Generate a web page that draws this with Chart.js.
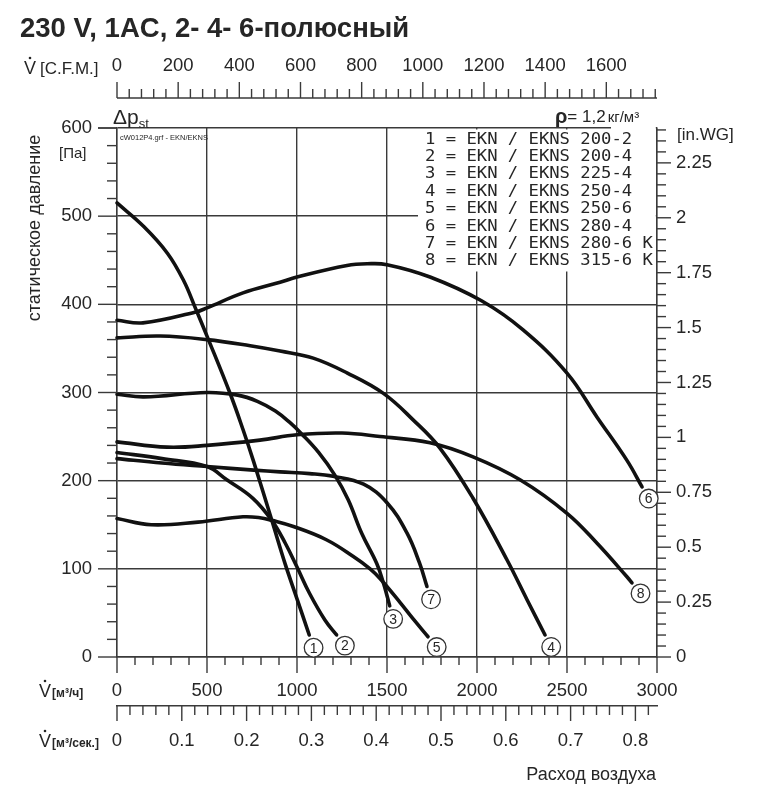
<!DOCTYPE html>
<html><head><meta charset="utf-8">
<script src="https://cdn.jsdelivr.net/npm/chart.js@4.4.1/dist/chart.umd.min.js"></script>
<style>html,body{margin:0;padding:0;background:#fff}#wrap{width:758px;height:802px}</style>
</head><body><div id="wrap"><canvas id="c" width="758" height="802"></canvas></div>
<script>
// ---- data (flow in m³/h, static pressure in Pa) ----
const flow1 = [0, 150, 280, 370, 435, 500, 630, 700, 760, 860, 935, 1000, 1068];
const pressure1 = [515, 488, 458, 427, 396, 364, 298, 258, 221, 155, 105, 66, 25];
const flow2 = [0, 250, 500, 610, 755, 860, 935, 1000, 1070, 1155, 1220];
const pressure2 = [232, 225, 216, 201, 180, 155, 129, 102, 72, 42, 25];
const flow3 = [0, 150, 500, 670, 780, 880, 960, 1026, 1120, 1211, 1285, 1360, 1443, 1480, 1502, 1515];
const pressure3 = [298, 295, 300, 297, 290, 279, 266, 253, 232, 206, 178, 140, 106, 84, 68, 58];
const flow4 = [0, 240, 500, 740, 906, 1090, 1280, 1480, 1645, 1794, 1978, 2167, 2278, 2378];
const pressure4 = [362, 364, 360, 353, 347, 339, 322, 299, 269, 237, 180, 110, 65, 25];
const flow5 = [0, 190, 450, 700, 794, 860, 980, 1163, 1313, 1406, 1461, 1572, 1650, 1728];
const pressure5 = [157, 150, 153, 159, 158, 155, 148, 133, 114, 100, 89, 62, 42, 23];
const flow6 = [0, 144, 433, 500, 700, 906, 1000, 1278, 1390, 1500, 1739, 2025, 2256, 2500, 2667, 2833, 2917];
const pressure6 = [382, 379, 391, 396, 413, 425, 431, 444, 446, 445, 431, 404, 371, 322, 272, 223, 193];
const flow7 = [0, 250, 500, 760, 906, 1070, 1200, 1370, 1500, 1610, 1680, 1722];
const pressure7 = [225, 220, 216, 212, 210, 208, 205, 196, 175, 141, 107, 80];
const flow8 = [0, 278, 500, 794, 1000, 1250, 1461, 1739, 1978, 2239, 2500, 2667, 2833, 2861];
const pressure8 = [244, 238, 240, 246, 252, 254, 250, 243, 227, 201, 163, 129, 91, 84];

const curveNumbers = ['1', '2', '3', '4', '5', '6', '7', '8'];
const curveNames = [
  '1 = EKN / EKNS 200-2',
  '2 = EKN / EKNS 200-4',
  '3 = EKN / EKNS 225-4',
  '4 = EKN / EKNS 250-4',
  '5 = EKN / EKNS 250-6',
  '6 = EKN / EKNS 280-4',
  '7 = EKN / EKNS 280-6 K',
  '8 = EKN / EKNS 315-6 K'
];

// tick labels
const flowTicks = [0, 500, 1000, 1500, 2000, 2500, 3000];
const pressureTicks = [0, 100, 200, 300, 400, 500, 600];
const cfmTicks = [0, 200, 400, 600, 800, 1000, 1200, 1400, 1600];
const flowSecTicks = [0, 0.1, 0.2, 0.3, 0.4, 0.5, 0.6, 0.7, 0.8];
const wgTicks = [0, 0.25, 0.5, 0.75, 1, 1.25, 1.5, 1.75, 2, 2.25];

// unit conversions
const M3H_PER_CFM = 1.699011;
const M3H_PER_M3S = 3600;
const PA_PER_INWG = 249.0889;

const flows = [flow1, flow2, flow3, flow4, flow5, flow6, flow7, flow8];
const pressures = [pressure1, pressure2, pressure3, pressure4, pressure5, pressure6, pressure7, pressure8];

const GRID = '#3a3a3a';
const TEXT = '#262626';
const FONT = '"Liberation Sans", Arial, sans-serif';
const tickFont = {family: FONT, size: 18.5};

const datasets = flows.map((f, k) => ({
  label: curveNames[k],
  data: f.map((x, i) => ({x: x, y: pressures[k][i]})),
  borderColor: '#111',
  borderWidth: 3.6,
  borderCapStyle: 'round',
  borderJoinStyle: 'round',
  pointRadius: 0,
  fill: false,
  tension: 0.4,
  xAxisID: 'x', yAxisID: 'y',
  clip: false
}));

function setTicks(arr) { return s => { s.ticks = arr.map(v => ({value: v})); }; }

function line(ctx, x1, y1, x2, y2) { ctx.beginPath(); ctx.moveTo(x1, y1); ctx.lineTo(x2, y2); ctx.stroke(); }

function vdot(ctx, x, y, gap, small, smallFont) {
  ctx.font = '18px ' + FONT;
  ctx.fillText('V', x, y);
  const w = ctx.measureText('V').width;
  ctx.beginPath(); ctx.arc(x + w / 2, y - 16, 1.3, 0, Math.PI * 2); ctx.fill();
  ctx.font = smallFont;
  ctx.fillText(small, x + w + gap, y);
}

const extras = {
  id: 'extras',
  beforeDatasetsDraw(chart) {
    const ctx = chart.ctx, a = chart.chartArea;
    ctx.save();
    ctx.fillStyle = '#fff';
    ctx.fillRect(418, a.top + 1.5, a.right - 1.2 - 418, 142);
    ctx.fillRect(611, a.top - 4, a.right - 1.2 - 611, 8);
    ctx.restore();
  },
  afterDatasetsDraw(chart) {
    const ctx = chart.ctx;
    ctx.save();
    chart.data.datasets.forEach((ds, k) => {
      const pts = chart.getDatasetMeta(k).data;
      const p1 = pts[pts.length - 2], p2 = pts[pts.length - 1];
      let dx = p2.x - p1.x, dy = p2.y - p1.y;
      const L = Math.hypot(dx, dy) || 1;
      dx /= L; dy /= L;
      const cx = p2.x + dx * 13.5, cy = p2.y + dy * 13.5;
      ctx.beginPath(); ctx.arc(cx, cy, 9.3, 0, Math.PI * 2);
      ctx.fillStyle = '#fff'; ctx.fill();
      ctx.lineWidth = 1.3; ctx.strokeStyle = '#333'; ctx.stroke();
      ctx.fillStyle = TEXT; ctx.font = '14px ' + FONT;
      ctx.textAlign = 'center'; ctx.textBaseline = 'middle';
      ctx.fillText(curveNumbers[k], cx, cy + 1);
    });
    ctx.restore();
  },
  afterDraw(chart) {
    const ctx = chart.ctx, a = chart.chartArea, S = chart.scales;
    ctx.save();
    ctx.strokeStyle = GRID; ctx.lineWidth = 1.4;
    for (let v = 0; v <= 3000; v += 100) {
      const px = S.x.getPixelForValue(v);
      line(ctx, px, a.bottom, px, a.bottom + (v % 500 === 0 ? 16 : 8));
    }
    for (let v = 0; v <= 600; v += 20) {
      const py = S.y.getPixelForValue(v);
      line(ctx, a.left - (v % 100 === 0 ? 19 : 10), py, a.left, py);
    }
    for (let i = 0; i <= 48; i++) {
      const py = S.wg.getPixelForValue(i * 0.05);
      line(ctx, a.right, py, a.right + (i % 5 === 0 ? 14 : 9), py);
    }
    const t2 = S.xs.top;
    for (let i = 0; i <= 41; i++) {
      const px = S.xs.getPixelForValue(i * 0.02);
      line(ctx, px, t2, px, t2 + (i % 5 === 0 ? 15 : 9));
    }
    const yc = 98;
    line(ctx, a.left, yc, a.right, yc);
    for (let i = 0; i <= 44; i++) {
      const px = S.cfm.getPixelForValue(i * 40);
      line(ctx, px, yc, px, yc - (i % 5 === 0 ? 16 : 9));
    }
    line(ctx, a.left - 19, a.top, a.left, a.top);

    // ---- texts ----
    ctx.fillStyle = TEXT;
    ctx.textAlign = 'left'; ctx.textBaseline = 'alphabetic';
    ctx.font = 'bold 27.5px ' + FONT;
    ctx.fillText('230 V, 1AC, 2- 4- 6-полюсный', 20, 37);

    vdot(ctx, 24, 74, 4, '[C.F.M.]', '17px ' + FONT);
    vdot(ctx, 39, 697, 1, '[м³/ч]', 'bold 12px ' + FONT);
    vdot(ctx, 39, 747, 1, '[м³/сек.]', 'bold 12px ' + FONT);

    ctx.font = '21px ' + FONT;
    ctx.fillText('Δp', 113, 124);
    const wdp = ctx.measureText('Δp').width;
    ctx.font = '13px ' + FONT;
    ctx.fillText('st', 113 + wdp, 128);

    ctx.font = '7.5px ' + FONT;
    ctx.fillText('cW012P4.grf - EKN/EKNS', 120, 140);

    ctx.font = '15px ' + FONT;
    ctx.fillText('[Па]', 59, 158);

    ctx.font = 'bold 20px ' + FONT;
    ctx.fillText('ρ', 555, 123);
    let xr = 555 + ctx.measureText('ρ').width;
    ctx.font = '17px ' + FONT;
    ctx.fillText('= 1,2', xr, 122);
    xr += ctx.measureText('= 1,2').width + 2;
    ctx.font = '15px ' + FONT;
    ctx.fillText('кг/м³', xr, 122);

    ctx.font = '17px ' + FONT;
    ctx.fillText('[in.WG]', 677, 140);

    ctx.font = '18px ' + FONT;
    ctx.textAlign = 'right';
    ctx.fillText('Расход воздуха', 656, 780);

    ctx.save();
    ctx.translate(40, 228);
    ctx.rotate(-Math.PI / 2);
    ctx.textAlign = 'center';
    ctx.font = '18px ' + FONT;
    ctx.fillText('статическое давление', 0, 0);
    ctx.restore();

    ctx.textAlign = 'left';
    ctx.font = '16px "DejaVu Sans Mono", monospace';
    curveNames.forEach((t, i) => {
      ctx.save();
      ctx.translate(425, 143.5 + i * 17.4);
      ctx.scale(1.075, 1);
      ctx.fillText(t, 0, 0);
      ctx.restore();
    });
    ctx.restore();
  }
};

const numFmt = v => String(v);

new Chart(document.getElementById('c'), {
  type: 'line',
  data: {datasets},
  options: {
    responsive: false,
    animation: false,
    events: [],
    layout: {padding: {top: 38, bottom: 37, left: 0, right: 0}},
    plugins: {legend: {display: false}, tooltip: {enabled: false}, title: {display: false}},
    scales: {
      x: {
        type: 'linear', position: 'bottom', weight: 1, min: 0, max: 3000,
        afterBuildTicks: setTicks(flowTicks),
        afterFit: s => { s.height = 49; },
        grid: {color: GRID, lineWidth: 1.4, drawTicks: false},
        border: {color: GRID, width: 1.4},
        ticks: {padding: 23, font: tickFont, color: TEXT, maxRotation: 0, autoSkip: false, callback: numFmt}
      },
      xs: {
        type: 'linear', position: 'bottom', weight: 2, min: 0, max: 3000 / M3H_PER_M3S,
        afterBuildTicks: setTicks(flowSecTicks),
        afterFit: s => { s.height = 59; },
        grid: {drawOnChartArea: false, drawTicks: false},
        border: {color: GRID, width: 1.4},
        ticks: {padding: 24, font: tickFont, color: TEXT, maxRotation: 0, autoSkip: false,
          callback: v => v === 0 ? '0' : v.toFixed(1)}
      },
      cfm: {
        type: 'linear', position: 'top', min: 0, max: 3000 / M3H_PER_CFM,
        afterBuildTicks: setTicks(cfmTicks),
        afterFit: s => { s.height = 90; },
        grid: {drawOnChartArea: false, drawTicks: false},
        border: {display: false},
        ticks: {padding: 51, font: tickFont, color: TEXT, maxRotation: 0, autoSkip: false, callback: numFmt}
      },
      y: {
        type: 'linear', position: 'left', min: 0, max: 600,
        afterBuildTicks: setTicks(pressureTicks),
        afterFit: s => { s.width = 117; },
        grid: {color: GRID, lineWidth: 1.4, drawTicks: false},
        border: {color: GRID, width: 1.4},
        ticks: {padding: 25, font: tickFont, color: TEXT, autoSkip: false, callback: numFmt}
      },
      wg: {
        type: 'linear', position: 'right', min: 0, max: 600 / PA_PER_INWG,
        afterBuildTicks: setTicks(wgTicks),
        afterFit: s => { s.width = 101; },
        grid: {drawOnChartArea: false, drawTicks: false},
        border: {color: GRID, width: 1.4},
        ticks: {padding: 19, font: tickFont, color: TEXT, autoSkip: false, callback: numFmt}
      }
    }
  },
  plugins: [extras]
});
</script>
</body></html>
